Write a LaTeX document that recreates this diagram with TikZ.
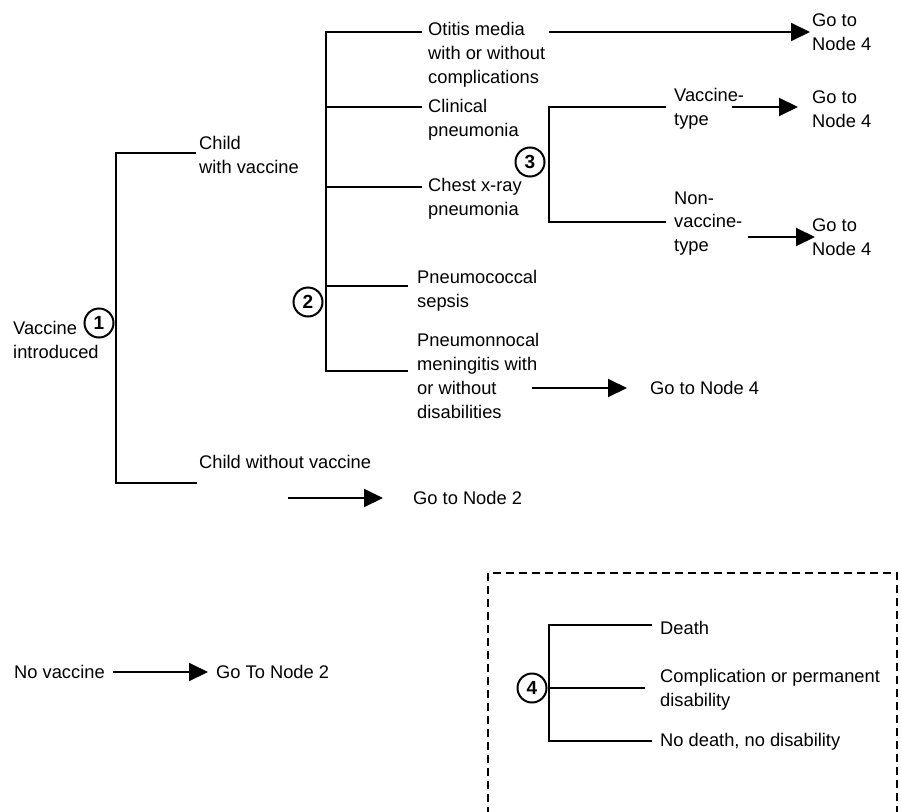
\documentclass[tikz,border=0pt]{standalone}
\usepackage{fontspec}
\setmainfont{Liberation Sans}
\usetikzlibrary{arrows.meta}
\begin{document}
\begin{tikzpicture}[x=1pt,y=-1pt,
 txt/.style={anchor=west,inner sep=0pt,align=left,font=\fontsize{18.3}{23.8}\selectfont},
 num/.style={circle,draw,line width=2pt,minimum size=29pt,inner sep=0pt,font=\fontsize{19}{19}\selectfont\bfseries},
 br/.style={line width=2pt},
 arr/.style={line width=2pt,-{Triangle[length=19pt,width=18pt]}},
 dbox/.style={line width=1.5pt,dash pattern=on 8pt off 5pt}]
\useasboundingbox (0,0) rectangle (902,811);

% ---- Node 1 ----
\node[txt] (vi) at (13,340) {Vaccine\\introduced};
\node[num] (n1) at (99,323) {1};
\coordinate (j1t) at (116,153);
\coordinate (j1b) at (116,483);
\coordinate (e1a) at (196,153);
\coordinate (e1b) at (197,483);
\draw[br] (e1a) -- (j1t) -- (j1b) -- (e1b);
\node[txt] (cwv) at (199,155) {Child\\with vaccine};
\node[txt] (cwo) at (199,462) {Child without vaccine};
\coordinate (a1s) at (288,498);
\coordinate (a1e) at (383,498);
\node[txt] (g2) at (413,498) {Go to Node 2};
\draw[arr] (a1s) -- (a1e);

% ---- Node 2 ----
\node[num] (n2) at (308,302) {2};
\coordinate (j2t) at (326,32);
\coordinate (j2b) at (326,371);
\coordinate (b2a) at (422,32);
\coordinate (b2b) at (422,107);
\coordinate (j2c) at (326,107);
\coordinate (b2c) at (422,187);
\coordinate (j2d) at (326,187);
\coordinate (b2d) at (408,286);
\coordinate (j2e) at (326,286);
\coordinate (b2e) at (408,371);
\draw[br] (b2a) -- (j2t) -- (j2b) -- (b2e);
\draw[br] (j2c) -- (b2b);
\draw[br] (j2d) -- (b2c);
\draw[br] (j2e) -- (b2d);
\node[txt] (oti) at (428,54.5) {Otitis media\\with or without\\complications};
\node[txt] (cli) at (428,119.5) {Clinical\\pneumonia};
\node[txt] (che) at (428,198.5) {Chest x-ray\\pneumonia};
\node[txt] (sep) at (417,290.5) {Pneumococcal\\sepsis};
\node[txt] (men) at (417,376) {Pneumonnocal\\meningitis with\\or without\\disabilities};
\coordinate (am) at (532,388);
\coordinate (amt) at (627,388);
\node[txt] (gm) at (650,388) {Go to Node 4};
\draw[arr] (am) -- (amt);

% Otitis arrow
\coordinate (ao) at (549,32);
\coordinate (aot) at (810,32);
\node[txt] (go) at (812,32) {Go to\\Node 4};
\draw[arr] (ao) -- (aot);

% ---- Node 3 ----
\node[num] (n3) at (530,162) {3};
\coordinate (j3t) at (549,107);
\coordinate (j3b) at (549,222);
\coordinate (b3a) at (666,107);
\coordinate (b3b) at (666,222);
\draw[br] (b3a) -- (j3t) -- (j3b) -- (b3b);
\node[txt] (vt) at (674,108.5) {Vaccine-\\type};
\node[txt] (nvt) at (674,223.5) {Non-\\vaccine-\\type};
\coordinate (av) at (732,107);
\coordinate (avt) at (798,107);
\node[txt] (gv) at (812,109) {Go to\\Node 4};
\draw[arr] (av) -- (avt);
\coordinate (an) at (748,237);
\coordinate (ant) at (815,237);
\node[txt] (gn) at (812,237) {Go to\\Node 4};
\draw[arr] (an) -- (ant);

% ---- No vaccine ----
\node[txt] (nv) at (14,672) {No vaccine};
\node[txt] (g2b) at (216,672) {Go To Node 2};
\coordinate (anv) at (113,672);
\coordinate (anvt) at (208,672);
\draw[arr] (anv) -- (anvt);

% ---- Node 4 box ----
\coordinate (bx1) at (488,815);
\coordinate (bx2) at (488,573);
\coordinate (bx3) at (897,573);
\coordinate (bx4) at (897,815);
\draw[dbox] (bx1) -- (bx2) -- (bx3) -- (bx4);
\node[num] (n4) at (532,688) {4};
\coordinate (j4t) at (549,625);
\coordinate (j4m) at (549,688);
\coordinate (j4b) at (549,741);
\coordinate (b4a) at (652,625);
\coordinate (b4b) at (645,688);
\coordinate (b4c) at (652,741);
\draw[br] (b4a) -- (j4t) -- (j4b) -- (b4c);
\draw[br] (j4m) -- (b4b);
\node[txt] (dth) at (660,628) {Death};
\node[txt] (cmp) at (660,690) {Complication or permanent\\disability};
\node[txt] (ndd) at (660,742) {No death, no disability};
\end{tikzpicture}
\end{document}
